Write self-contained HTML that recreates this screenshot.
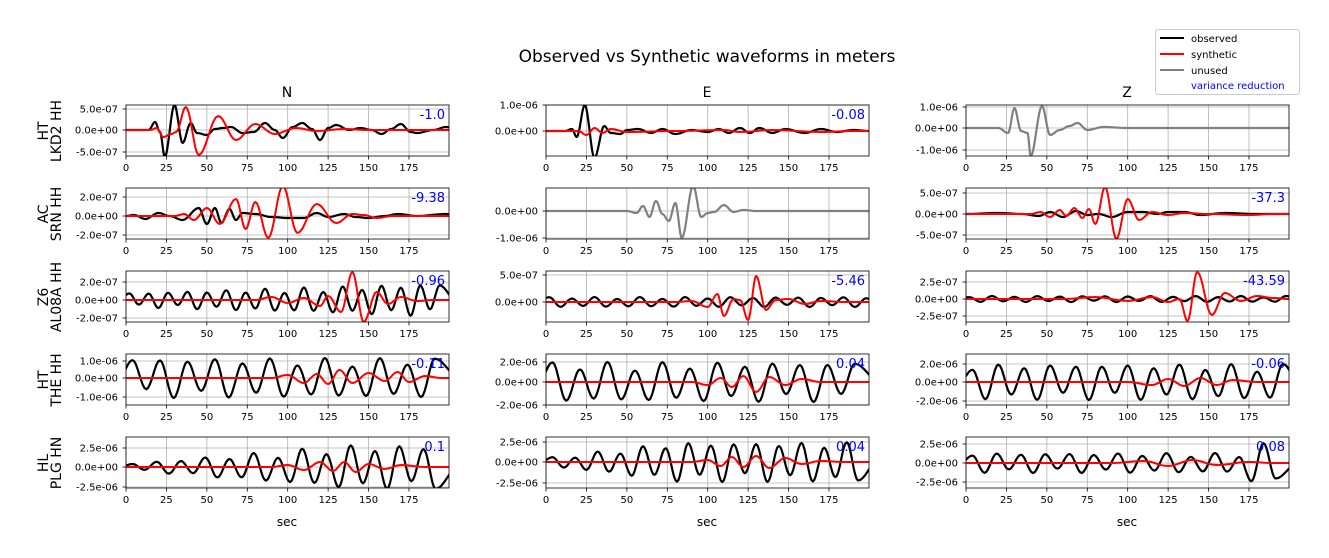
<!DOCTYPE html>
<html><head><meta charset="utf-8"><style>
body{margin:0;background:#fff;}
svg{display:block;font-family:"DejaVu Sans","Liberation Sans",sans-serif;}
</style></head><body>
<svg id="s" width="1329" height="558" xmlns="http://www.w3.org/2000/svg">
<rect width="1329" height="558" fill="#fff"/>
<text x="707" y="62" font-size="17" text-anchor="middle">Observed vs Synthetic waveforms in meters</text>
<text x="287" y="97" font-size="14" text-anchor="middle">N</text>
<text x="707" y="97" font-size="14" text-anchor="middle">E</text>
<text x="1127" y="97" font-size="14" text-anchor="middle">Z</text>
<text x="287" y="526" font-size="12" text-anchor="middle">sec</text>
<text x="707" y="526" font-size="12" text-anchor="middle">sec</text>
<text x="1127" y="526" font-size="12" text-anchor="middle">sec</text>
<g font-size="14" text-anchor="middle">
<text transform="translate(48,131) rotate(-90)">HT</text><text transform="translate(61,131) rotate(-90)">LKD2 HH</text>
<text transform="translate(48,214) rotate(-90)">AC</text><text transform="translate(61,214) rotate(-90)">SRN HH</text>
<text transform="translate(48,297) rotate(-90)">Z6</text><text transform="translate(61,297) rotate(-90)">AL08A HH</text>
<text transform="translate(48,380) rotate(-90)">HT</text><text transform="translate(61,380) rotate(-90)">THE HH</text>
<text transform="translate(48,463) rotate(-90)">HL</text><text transform="translate(61,463) rotate(-90)">PLG HN</text>
</g>
<rect x="1155.5" y="29.5" width="144" height="65" rx="3" fill="#fff" stroke="#ccc"/>
<line x1="1160" y1="38" x2="1184" y2="38" stroke="#000" stroke-width="2"/>
<line x1="1160" y1="54" x2="1184" y2="54" stroke="#f00" stroke-width="2"/>
<line x1="1160" y1="70" x2="1184" y2="70" stroke="#808080" stroke-width="2"/>
<g font-size="10"><text x="1191" y="42">observed</text><text x="1191" y="58">synthetic</text><text x="1191" y="74">unused</text><text x="1191" y="89" fill="#00f">variance reduction</text></g>
<g id="g"></g>
</svg>
<script>
var cols=[126,546,966],W=323,tops=[105,188,271,354,437],H=51,K=1.617;
function osc(t0,t1,P,af,seed){var r=[[t0-P/2,0]],k=0;for(var t=t0;t<=t1;t+=P/2,k++){var a=af(t)*(0.55+0.45*Math.abs(Math.sin(k*2.3+seed)));r.push([t,(k%2?-1:1)*a]);}r.push([t1+P/2,0]);return r;}
function c(v){return function(){return v;};}
var P=[
{z:130,t:[["5.0e-07",109],["0.0e+00",130],["-5.0e-07",152]],vr:"-1.0",
o:[[14,0],[18,8],[21,-2],[24,-27],[30,25],[35,-13],[40,7],[44,-3],[50,-5],[55,1],[60,2],[65,3],[72,-3],[79,-2],[86,7],[92,0],[97,-8],[103,3],[109,7],[115,1],[120,-10],[125,2],[130,5],[138,0],[145,2],[152,0],[158,-4],[164,1],[170,6],[176,-2],[180,-3],[190,0],[198,3],[205,0]],
s:[[15,0],[19,2],[23,-7],[28,-4],[31,-2],[37,23],[45,-25],[57,14],[68,-10],[80,6],[92,-4],[105,2],[118,-1],[135,1],[150,0]]},
{z:131,t:[["1.0e-06",105],["0.0e+00",131]],vr:"-0.08",
o:[[12,0],[16,2],[19,-6],[24,26],[30,-27],[36,5],[40,-2],[46,-3],[50,1],[57,2],[65,-2],[72,2],[80,-3],[90,1],[100,-1],[107,2],[113,-2],[120,3],[126,-2],[132,3],[140,-2],[148,2],[160,-2],[170,2],[180,-1],[190,1],[200,0]],
s:[[20,0],[25,-4],[30,3],[35,-2],[40,2],[50,-1],[80,0],[110,1],[120,-1],[140,1],[170,-1],[190,0]]},
{z:128,t:[["1.0e-06",107],["0.0e+00",128],["-1.0e-06",150]],vr:"",
g:[[20,0],[26,-5],[30,20],[34,-3],[38,-5],[40,-28],[47,22],[52,-7],[58,-2],[64,2],[69,5],[75,-2],[85,1],[100,0]]},
{z:216,t:[["2.0e-07",197],["0.0e+00",216],["-2.0e-07",235]],vr:"-9.38",
o:[[0,0],[5,1],[12,-3],[20,3],[27,0],[35,-4],[45,8],[50,-8],[55,8],[59,-7],[64,7],[68,-4],[72,3],[80,2],[90,-1],[100,-2],[110,-2],[118,3],[125,-1],[135,2],[142,-1],[150,-2],[160,0],[168,2],[180,0],[198,2],[205,0]],
s:[[30,0],[36,2],[42,-4],[50,8],[58,-8],[68,17],[74,-13],[80,14],[88,-22],[97,30],[106,-17],[118,12],[130,-7],[140,2],[147,1],[155,-2],[165,0]]},
{z:211,t:[["0.0e+00",211],["-1.0e-06",238]],vr:"",
g:[[50,0],[56,-2],[60,5],[64,-6],[68,10],[72,-3],[76,-10],[80,8],[84,-27],[91,25],[96,-6],[100,-2],[104,-1],[110,6],[116,-1],[122,1],[130,0]]},
{z:214,t:[["5.0e-07",193],["0.0e+00",214],["-5.0e-07",235]],vr:"-37.3",
o:[[0,0],[20,1],[35,0],[45,-2],[52,2],[60,-3],[68,3],[75,-1],[82,0],[90,-3],[100,2],[110,2],[118,0],[125,2],[135,2],[145,-1],[160,1],[180,0]],
s:[[40,0],[46,2],[52,-3],[58,4],[62,-2],[67,6],[72,-4],[76,5],[80,-10],[86,27],[93,-25],[100,15],[107,-6],[115,2],[125,-1],[135,1],[150,0],[175,-1],[190,0]]},
{z:300,t:[["2.0e-07",282],["0.0e+00",300],["-2.0e-07",318]],vr:"-0.96",
o:osc(2,198,12,function(t){return 7+t*0.05;},1),
s:[[80,0],[90,3],[100,-3],[110,2],[120,-6],[125,4],[133,-12],[140,28],[147,-22],[155,8],[162,-4],[170,3],[180,-1],[190,0]]},
{z:302,t:[["5.0e-07",275],["0.0e+00",302]],vr:"-5.46",
o:osc(2,198,14,c(5),2),
s:[[80,0],[90,1],[100,-5],[106,8],[110,-14],[116,3],[120,2],[125,-18],[130,26],[136,-8],[142,2],[150,3],[160,-2],[170,1],[185,0]]},
{z:299,t:[["2.5e-07",282],["0.0e+00",299],["-2.5e-07",316]],vr:"-43.59",
o:osc(2,198,14,c(3),3),
s:[[60,0],[80,2],[100,-2],[115,2],[125,-3],[132,0],[137,-22],[143,27],[152,-16],[160,6],[170,-2],[180,3],[190,1],[200,0]]},
{z:378,t:[["1.0e-06",361],["0.0e+00",378],["-1.0e-06",397]],vr:"-0.11",
o:osc(4,198,17,c(20),4),
s:[[90,0],[100,3],[110,-5],[118,4],[125,-6],[132,8],[140,-5],[150,5],[160,-3],[168,6],[175,-4],[185,2],[195,0]]},
{z:382,t:[["2.0e-06",362],["0.0e+00",382],["-2.0e-06",405]],vr:"0.04",
o:osc(4,198,17,c(20),5),
s:[[90,0],[100,-3],[108,4],[115,-5],[122,6],[130,-10],[138,5],[148,-3],[158,3],[170,0]]},
{z:382,t:[["2.0e-06",364],["0.0e+00",382],["-2.0e-06",401]],vr:"-0.06",
o:osc(4,198,16,c(18),6),
s:[[100,0],[115,-3],[125,3],[135,-4],[145,4],[155,-3],[165,2],[180,0]]},
{z:467,t:[["2.5e-06",448],["0.0e+00",467],["-2.5e-06",487]],vr:"0.1",
o:osc(4,198,15,function(t){return Math.min(22,3+t*0.14);},7),
s:[[90,0],[100,2],[110,-3],[120,5],[128,-4],[135,5],[142,-5],[150,3],[160,-2],[170,2],[185,0]]},
{z:462,t:[["2.5e-06",442],["0.0e+00",462],["-2.5e-06",483]],vr:"0.04",
o:osc(4,198,14,function(t){return Math.min(20,4+t*0.2);},8),
s:[[90,0],[100,2],[108,-4],[115,5],[122,-5],[130,6],[138,-6],[148,4],[158,-2],[170,1],[185,0]]},
{z:463,t:[["2.5e-06",444],["0.0e+00",463],["-2.5e-06",482]],vr:"0.08",
o:osc(4,198,15,function(t){return t>170?20:10;},9),
s:[[90,0],[110,2],[125,-3],[140,3],[155,-2],[175,1],[190,0]]}
];
function path(ex,x0,z){ex=ex.slice().sort(function(a,b){return a[0]-b[0];});ex.unshift([-10,0]);ex.push([215,0]);var d="";for(var i=0;i<ex.length-1;i++){var a=ex[i],b=ex[i+1];for(var j=0;j<=8;j++){var u=j/8,t=a[0]+(b[0]-a[0])*u,v=a[1]+(b[1]-a[1])*(1-Math.cos(Math.PI*u))/2;d+=(d?"L":"M")+(x0+t*K).toFixed(1)+","+(z-v).toFixed(1);}}return d;}
var h="";
P.forEach(function(p,i){var r=Math.floor(i/3),cc=i%3,x0=cols[cc],y0=tops[r];
h+='<clipPath id="c'+i+'"><rect x="'+x0+'" y="'+y0+'" width="'+W+'" height="'+H+'"/></clipPath>';
for(var k=0;k<8;k++){var x=x0+k*25*K;h+='<line x1="'+x+'" x2="'+x+'" y1="'+y0+'" y2="'+(y0+H)+'" stroke="#b0b0b0" stroke-width="0.8"/>';
h+='<line x1="'+x+'" x2="'+x+'" y1="'+(y0+H)+'" y2="'+(y0+H+3.5)+'" stroke="#000" stroke-width="0.8"/>';
h+='<text x="'+x+'" y="'+(y0+H+15)+'" font-size="10" text-anchor="middle">'+(k*25)+'</text>';}
p.t.forEach(function(t){h+='<line x1="'+x0+'" x2="'+(x0+W)+'" y1="'+t[1]+'" y2="'+t[1]+'" stroke="#b0b0b0" stroke-width="0.8"/>';
h+='<line x1="'+(x0-3.5)+'" x2="'+x0+'" y1="'+t[1]+'" y2="'+t[1]+'" stroke="#000" stroke-width="0.8"/>';
h+='<text x="'+(x0-8)+'" y="'+(t[1]+3.5)+'" font-size="10" text-anchor="end">'+t[0]+'</text>';});
var g='<g clip-path="url(#c'+i+')" fill="none" stroke-linejoin="round">';
if(p.g)g+='<path d="'+path(p.g,x0,p.z)+'" stroke="#808080" stroke-width="2.2"/>';
if(p.o)g+='<path d="'+path(p.o,x0,p.z)+'" stroke="#000" stroke-width="2.2"/>';
if(p.s)g+='<path d="'+path(p.s,x0,p.z)+'" stroke="#f00" stroke-width="2"/>';
h+=g+'</g>';
if(p.vr)h+='<text x="'+(x0+W-4)+'" y="'+(y0+14)+'" font-size="13" fill="#00f" text-anchor="end">'+p.vr+'</text>';
h+='<rect x="'+x0+'" y="'+y0+'" width="'+W+'" height="'+H+'" fill="none" stroke="#000" stroke-width="0.8"/>';});
document.getElementById("g").innerHTML=h;
</script>
</body></html>
